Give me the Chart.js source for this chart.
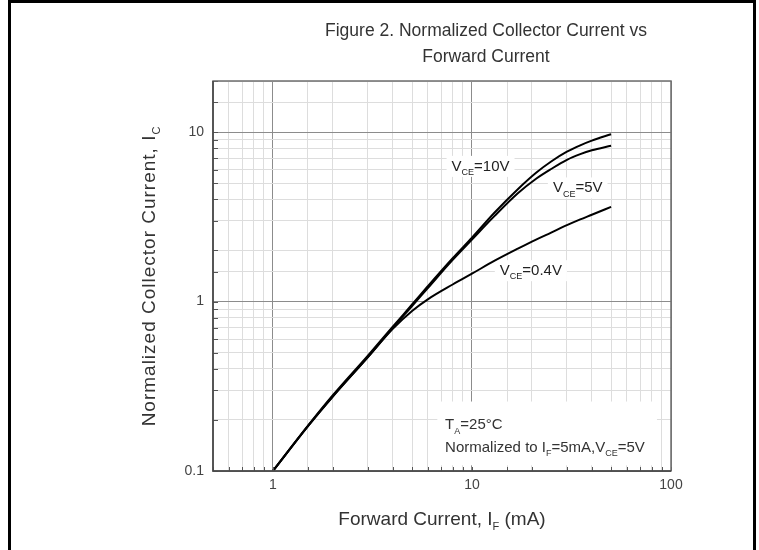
<!DOCTYPE html>
<html>
<head>
<meta charset="utf-8">
<script src="https://cdn.jsdelivr.net/npm/chart.js@4"></script>
<style>
  html, body { margin: 0; padding: 0; background: #fff; }
  #wrap { position: relative; width: 759px; height: 550px; overflow: hidden; }
  #frame { position: absolute; left: 8px; top: 0; width: 742px; height: 600px; border: 3px solid #000; }
  #chart { position: absolute; left: 0; top: 0; }
</style>
</head>
<body>
<div id="wrap">
  <div id="frame"></div>
  <canvas id="chart" width="759" height="550"></canvas>
</div>
<script>
// forward current I_F (mA) and normalized collector current for each V_CE
const forwardCurrent = [1, 1.5, 2, 3, 4, 5, 6, 8, 10, 13, 17, 21, 25, 30, 35, 40, 50];
const vce10 = [0.1, 0.185, 0.28, 0.48, 0.71, 0.96, 1.23, 1.8, 2.38, 3.35, 4.6, 5.75, 6.7, 7.65, 8.35, 8.9, 9.7];
const vce5 = [0.1, 0.184, 0.276, 0.47, 0.70, 0.94, 1.2, 1.76, 2.32, 3.2, 4.35, 5.3, 6.05, 6.85, 7.4, 7.8, 8.3];
const vce04 = [0.1, 0.184, 0.275, 0.47, 0.69, 0.88, 1.03, 1.26, 1.46, 1.74, 2.05, 2.32, 2.55, 2.82, 3.05, 3.25, 3.62];

const xTickLabels = [1, 10, 100];
const yTickLabels = [0.1, 1, 10];

const FONT = '"Liberation Sans", Arial, Helvetica, sans-serif';

const isMajor = v => Math.abs(Math.log10(v) - Math.round(Math.log10(v))) < 1e-6;
const inList = (list, v) => list.some(t => Math.abs(t - v) < 1e-9);
const toPoints = ys => forwardCurrent.map((x, i) => ({ x: x, y: ys[i] }));

// rich text: [text, isSubscript]
function richWidth(ctx, parts, size) {
  let w = 0;
  parts.forEach(([t, sub]) => {
    ctx.font = (sub ? Math.round(size * 0.58) : size) + 'px ' + FONT;
    w += ctx.measureText(t).width;
  });
  return w;
}
function drawRich(ctx, parts, x, y, size) {
  parts.forEach(([t, sub]) => {
    ctx.font = (sub ? Math.round(size * 0.58) : size) + 'px ' + FONT;
    ctx.fillText(t, x, sub ? y + size * 0.28 : y);
    x += ctx.measureText(t).width;
  });
}

const curveLabels = [
  { x: 7.9, y: 5.9, parts: [['V', 0], ['CE', 1], ['=10V', 0]] },
  { x: 25.5, y: 4.4, parts: [['V', 0], ['CE', 1], ['=5V', 0]] },
  { x: 13.8, y: 1.43, parts: [['V', 0], ['CE', 1], ['=0.4V', 0]] }
];
const noteBox = { x1: 6.7, x2: 85, y1: 0.257, y2: 0.108 };
const noteLines = [
  { x: 7.33, y: 0.176, parts: [['T', 0], ['A', 1], ['=25°C', 0]] },
  { x: 7.33, y: 0.129, parts: [['Normalized to I', 0], ['F', 1], ['=5mA,V', 0], ['CE', 1], ['=5V', 0]] }
];

const decorations = {
  id: 'decorations',
  beforeDatasetsDraw(chart) {
    const ctx = chart.ctx, xs = chart.scales.x, ys = chart.scales.y;
    ctx.save();
    ctx.fillStyle = '#fff';
    curveLabels.forEach(l => {
      const px = xs.getPixelForValue(l.x), py = ys.getPixelForValue(l.y);
      const w = richWidth(ctx, l.parts, 15);
      ctx.fillRect(px - 5, py - 15, w + 10, 21);
    });
    const bx1 = xs.getPixelForValue(noteBox.x1), bx2 = xs.getPixelForValue(noteBox.x2);
    const by1 = ys.getPixelForValue(noteBox.y1), by2 = ys.getPixelForValue(noteBox.y2);
    ctx.fillRect(bx1, by1, bx2 - bx1, by2 - by1);
    ctx.restore();
  },
  afterDraw(chart) {
    const ctx = chart.ctx, a = chart.chartArea, xs = chart.scales.x, ys = chart.scales.y;
    ctx.save();

    // inward ticks
    ctx.strokeStyle = '#555';
    ctx.lineWidth = 1;
    ctx.beginPath();
    xs.ticks.forEach(t => {
      const px = Math.round(xs.getPixelForValue(t.value)) + 0.5;
      ctx.moveTo(px, a.bottom); ctx.lineTo(px, a.bottom - 4);
    });
    ys.ticks.forEach(t => {
      const py = Math.round(ys.getPixelForValue(t.value)) + 0.5;
      ctx.moveTo(a.left, py); ctx.lineTo(a.left + 5, py);
    });
    ctx.stroke();

    // plot frame
    ctx.strokeStyle = '#6e6e6e';
    ctx.lineWidth = 1.5;
    ctx.strokeRect(a.left, a.top, a.right - a.left, a.bottom - a.top);
    ctx.strokeStyle = '#444';
    ctx.beginPath();
    ctx.moveTo(a.left, a.top); ctx.lineTo(a.left, a.bottom); ctx.lineTo(a.right, a.bottom);
    ctx.stroke();

    // title
    ctx.fillStyle = '#333';
    ctx.textAlign = 'center';
    ctx.textBaseline = 'alphabetic';
    ctx.font = '17.5px ' + FONT;
    ctx.fillText('Figure 2. Normalized Collector Current vs', 486, 36);
    ctx.fillText('Forward Current', 486, 62);

    // axis titles
    ctx.textAlign = 'left';
    const xt = [['Forward Current, I', 0], ['F', 1], [' (mA)', 0]];
    const xw = richWidth(ctx, xt, 19);
    drawRich(ctx, xt, (a.left + a.right) / 2 - xw / 2, 525, 19);

    const yt = [['Normalized Collector Current, I', 0], ['C', 1]];
    ctx.save();
    ctx.translate(155, (a.top + a.bottom) / 2);
    ctx.rotate(-Math.PI / 2);
    ctx.letterSpacing = '1px';
    const yw = richWidth(ctx, yt, 19);
    drawRich(ctx, yt, -yw / 2, 0, 19);
    ctx.restore();

    // curve labels and note
    ctx.fillStyle = '#222';
    curveLabels.forEach(l => drawRich(ctx, l.parts, xs.getPixelForValue(l.x), ys.getPixelForValue(l.y), 15));
    ctx.fillStyle = '#333';
    noteLines.forEach(l => drawRich(ctx, l.parts, xs.getPixelForValue(l.x), ys.getPixelForValue(l.y), 15));

    ctx.restore();
  }
};

const gridColor = c => isMajor(c.tick.value) ? '#8c8c8c' : '#dddddd';

new Chart(document.getElementById('chart'), {
  type: 'line',
  data: {
    datasets: [
      { label: 'VCE=10V', data: toPoints(vce10) },
      { label: 'VCE=5V', data: toPoints(vce5) },
      { label: 'VCE=0.4V', data: toPoints(vce04) }
    ].map(d => Object.assign(d, {
      borderColor: '#000', borderWidth: 2, pointRadius: 0,
      cubicInterpolationMode: 'monotone', fill: false
    }))
  },
  options: {
    responsive: false,
    animation: false,
    devicePixelRatio: 1,
    layout: { padding: { left: 0, top: 81, right: 88, bottom: 39 } },
    plugins: { legend: { display: false }, title: { display: false }, tooltip: { enabled: false } },
    scales: {
      x: {
        type: 'logarithmic', min: 0.5, max: 100,
        grid: { color: gridColor, lineWidth: 1, drawTicks: false },
        border: { display: false },
        ticks: {
          autoSkip: false, maxRotation: 0, padding: 6, color: '#444',
          font: { family: FONT, size: 14 },
          callback: v => inList(xTickLabels, v) ? String(v) : ''
        },
        afterFit: s => { s.height = 40; }
      },
      y: {
        type: 'logarithmic', min: 0.1, max: 20,
        grid: { color: gridColor, lineWidth: 1, drawTicks: false },
        border: { display: false },
        ticks: {
          autoSkip: false, padding: 9, color: '#444',
          font: { family: FONT, size: 14 },
          callback: v => inList(yTickLabels, v) ? String(v) : ''
        },
        afterFit: s => { s.width = 213; }
      }
    }
  },
  plugins: [decorations]
});
</script>
</body>
</html>
